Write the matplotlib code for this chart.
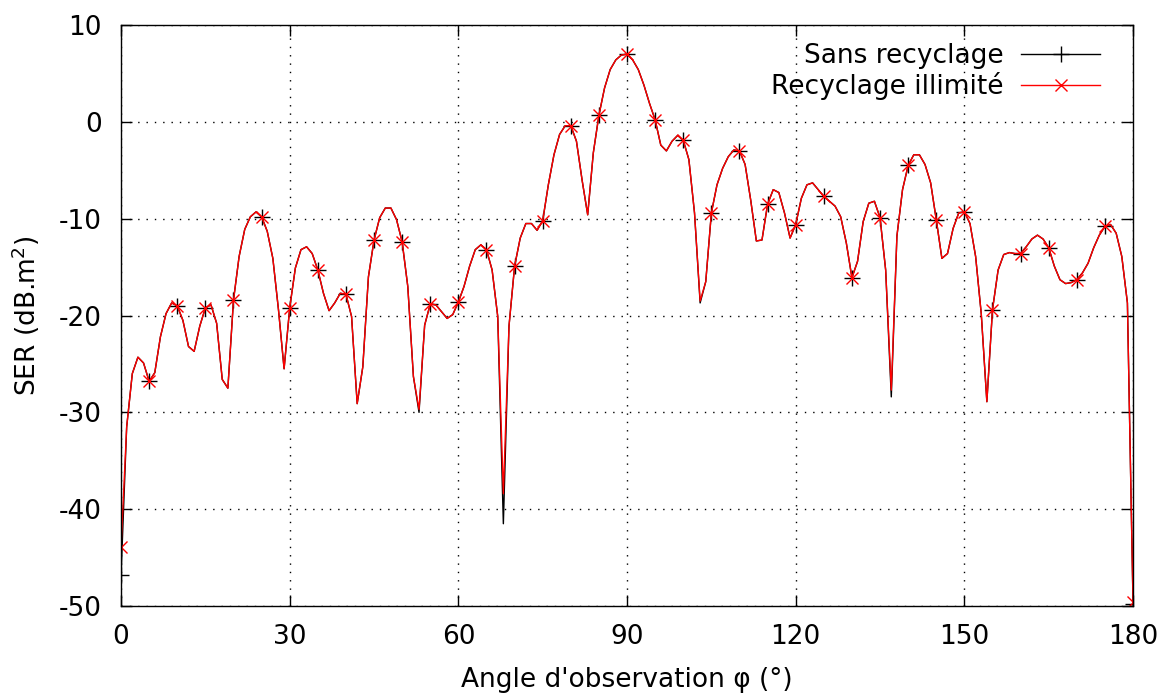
import numpy as np
import matplotlib
matplotlib.use("Agg")
import matplotlib.pyplot as plt

# Observation angle, 1 degree step
angles = np.arange(0, 181)

# SER (dB.m2) - unlimited recycling (red curve)
ser_recyclage = [
    -43.9, -31.5, -26.0, -24.3, -24.9, -26.8, -25.9, -22.2, -19.8, -18.7,
    -19.0, -20.5, -23.2, -23.7, -21.1, -19.2, -18.9, -20.8, -26.6, -27.5,
    -18.4, -13.9, -11.1, -9.8, -9.3, -9.8, -11.3, -14.1, -19.4, -25.5,
    -19.2, -15.1, -13.2, -12.9, -13.6, -15.3, -17.7, -19.5, -18.7, -17.7,
    -17.8, -20.1, -29.1, -25.3, -16.0, -12.2, -9.9, -8.9, -8.9, -10.1,
    -12.4, -17.0, -26.3, -29.7, -21.0, -18.8, -18.9, -19.6, -20.3, -19.9,
    -18.6, -17.0, -14.9, -13.2, -12.7, -13.2, -15.3, -20.1, -38.4, -21.1,
    -14.9, -12.0, -10.5, -10.5, -11.2, -10.2, -6.5, -3.4, -1.3, -0.4,
    -0.4, -2.0, -6.0, -9.6, -3.2, 0.7, 3.5, 5.4, 6.4, 6.9,
    7.0, 6.4, 5.4, 3.8, 1.9, 0.2, -2.4, -3.0, -2.0, -1.4,
    -1.9, -3.9, -9.4, -18.5, -16.5, -9.4, -6.5, -4.8, -3.6, -2.9,
    -3.0, -4.4, -8.1, -12.3, -12.2, -8.5, -7.0, -7.3, -9.4, -12.0,
    -10.6, -7.9, -6.5, -6.3, -7.0, -7.7, -8.2, -8.7, -9.8, -12.5,
    -16.1, -14.4, -10.3, -8.4, -8.2, -9.9, -15.3, -27.7, -11.8, -7.0,
    -4.5, -3.4, -3.4, -4.4, -6.3, -10.1, -14.1, -13.6, -11.0, -9.4,
    -9.3, -10.5, -13.9, -19.8, -28.9, -19.4, -15.3, -13.7, -13.5, -13.6,
    -13.6, -12.9, -12.1, -11.7, -12.1, -13.0, -14.9, -16.3, -16.7, -16.6,
    -16.3, -15.6, -14.6, -13.0, -11.7, -10.8, -10.6, -11.5, -13.9, -18.7,
    -49.6,
]

# Without recycling (black curve): same as above except at the deepest nulls
ser_sans = list(ser_recyclage)
ser_sans[0] = -46.8
ser_sans[53] = -30.0
ser_sans[68] = -41.5
ser_sans[103] = -18.7
ser_sans[137] = -28.4
ser_sans[180] = -49.8

plt.rcParams['font.family'] = ['DejaVu Sans']
plt.rcParams['font.size'] = 19
plt.rcParams['axes.unicode_minus'] = False

fig = plt.figure(figsize=(11.64, 6.95), dpi=100)
ax = fig.add_axes([0.104, 0.128, 0.8694, 0.836])

ax.plot(angles, ser_sans, color='black', lw=1.0, marker='+', markevery=5,
        markersize=11, markeredgewidth=1.0, label='Sans recyclage')
ax.plot(angles, ser_recyclage, color='red', lw=1.0, marker='x', markevery=5,
        markersize=9, markeredgewidth=1.0, label='Recyclage illimité')

ax.set_xlim(0, 180)
ax.set_ylim(-50, 10)
ax.set_xticks(np.arange(0, 181, 30))
ax.set_yticks(np.arange(-50, 11, 10))
ax.tick_params(direction='in', length=8, width=1, top=True, right=True)
ax.tick_params(axis='y', pad=14)
ax.tick_params(axis='x', pad=13)
ax.grid(True, color='black', linestyle=(0, (1, 5)), linewidth=1.0)
for s in ax.spines.values():
    s.set_linewidth(1.0)

ax.set_xlabel("Angle d'observation φ (°)", labelpad=12)
ax.set_ylabel("SER (dB.m$^2$)", labelpad=12)

ax.legend(loc='upper right', frameon=False, markerfirst=False,
          handlelength=3.0, handletextpad=0.65, labelspacing=0.11,
          borderaxespad=0.0, bbox_to_anchor=(0.978, 0.987))

fig.savefig('out.png', dpi=100)
